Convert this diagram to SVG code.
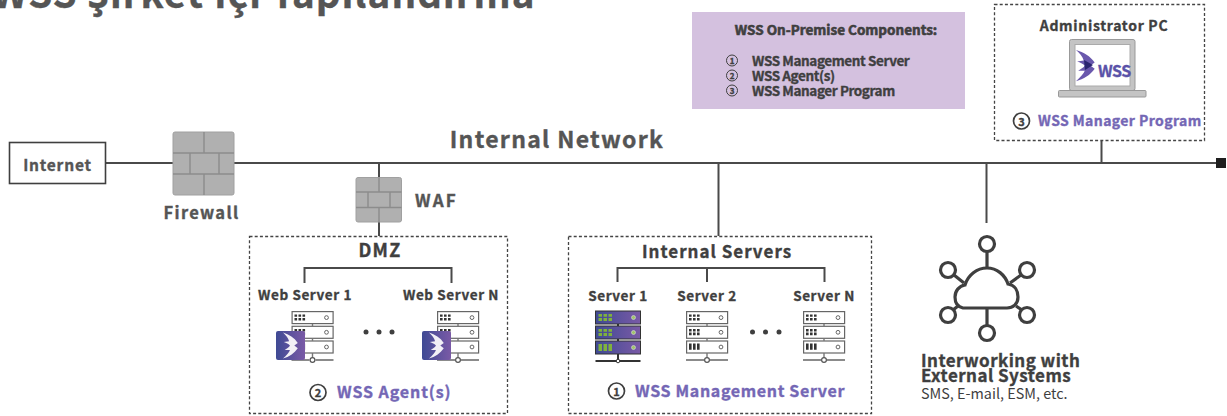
<svg xmlns="http://www.w3.org/2000/svg" width="1227" height="416" viewBox="0 0 1227 416">
<style>
text{font-family:"Noto Sans CJK KR","Noto Sans",sans-serif;font-weight:700;fill:#3f3f3f;stroke:#3f3f3f;stroke-width:.35}
.gray{fill:#555;stroke:#555}
.purple{fill:#7467b5;stroke:#7467b5}
.m{text-anchor:middle}
.wire{stroke:#4a4a4a;fill:none;stroke-width:2}
.box{fill:none;stroke:#444;stroke-width:1.3;stroke-dasharray:3 2.2}
.fw{fill:#b0b0b0;stroke:#a0a0a0;stroke-width:1}
.fl{stroke:#8c8c8c;stroke-width:1.4;fill:none}
.num{fill:#fff;stroke:#3f3f3f;stroke-width:1.7}
.srv{fill:#fff;stroke:#666;stroke-width:1.2}
.dot{fill:#3f3f3f}
</style>
<defs>
<linearGradient id="g" x1="0" x2="1" y1="0" y2="0"><stop offset="0" stop-color="#3f4a94"/><stop offset="1" stop-color="#7a5aa6"/></linearGradient>
<path id="swoosh" d="M0 0C7 2 13 6 17 12L13 15L17 18C13 24 7 28 0 30C4 26 7 23 8 20L2 20C5 18 7 17 8 15C6 13 4 12 1 11L7 10C6 6 3 3 0 0Z"/>
<g id="srvW">
<rect class="srv" x="0.6" y="0.6" width="41" height="12"/><rect class="srv" x="0.6" y="15.3" width="41" height="12"/><rect class="srv" x="0.6" y="30" width="41" height="12"/>
<path d="M21 13V15M21 27.5V30M21 42V47" stroke="#777" stroke-width="1.4"/>
<path d="M0 49H18M24 49H42" stroke="#666" stroke-width="1.3"/><circle cx="21" cy="49" r="2.4" fill="#fff" stroke="#555" stroke-width="1.2"/>
<path d="M3 3.500h2.600v2.200H3zM7 3.500h2.600v2.200H7zM11 3.500h2.600v2.200H11zM3 7h2.600v2.600H3zM7 7h2.600v2.600H7zM11 7h2.600v2.600H11zM3 18h2.600v2.400H3zM7 18h2.600v2.400H7zM11 18h2.600v2.400H11zM3 21.600h2.600v2.600H3zM7 21.600h2.600v2.600H7zM11 21.600h2.600v2.600H11zM3 32.600h2.600v6.200H3zM7 32.600h2.600v6.200H7zM11 32.600h2.600v6.200H11z" fill="#333"/>
<circle cx="35" cy="6.600" r="1.900" fill="#fff" stroke="#666"/><circle cx="35" cy="21.300" r="1.900" fill="#fff" stroke="#666"/><circle cx="35" cy="36" r="1.900" fill="#fff" stroke="#666"/>
</g>
<g id="agent"><rect width="29" height="29" rx="2" fill="url(#g)"/><use href="#swoosh" transform="translate(7 1.500) scale(.87)" fill="#f2f0f6"/></g>
</defs>

<text x="-8" y="8" font-size="38.500" class="gray" letter-spacing="1.100">WSS Şirket İçi Yapılandırma</text>

<g id="connectors">
<path class="wire" d="M105 163H1222"/>
<path class="wire" d="M379 163V236M718.500 163V236M986.500 163V223M1101.500 141V163"/>
<path class="wire" d="M304.500 283V268H451.500V283M617.500 282V268H824.500V282M707 268V282"/>
<rect x="1216" y="158" width="10" height="10" fill="#1e1e1e"/>
</g>

<g id="internet"><rect x="9.500" y="142.500" width="96" height="41" fill="#fff" stroke="#3f3f3f" stroke-width="1.600"/><text x="57.500" y="171" class="m gray" font-size="15.500" letter-spacing=".8">Internet</text></g>

<g id="firewall"><g transform="translate(173 132)"><rect class="fw" width="61" height="63" rx="2"/><path class="fl" d="M31 0V21M0 21H61M17 21V42M46 21V42M0 42H61M31 42V63"/></g>
<text x="201.500" y="219" class="m gray" font-size="16.500" letter-spacing="1.300">Firewall</text></g>

<g id="waf"><g transform="translate(356 177.500)"><rect class="fw" width="45.500" height="44.500" rx="2"/><path class="fl" d="M23 0V14M0 14.500H45.500M12 14.500V30M34 14.500V30M0 30H45.500M23 30V44.500"/></g>
<text x="415" y="207" class="gray" font-size="17" letter-spacing="2.200">WAF</text></g>

<g id="internal-network"><text x="557" y="147.500" class="m gray" font-size="23" letter-spacing="1.300">Internal Network</text></g>

<g id="legend"><rect x="692" y="12" width="273" height="97" fill="#d4c1df"/>
<text x="836" y="35" class="m" font-size="13.500" style="stroke-width:.6">WSS On-Premise Components:</text>
<g font-size="13.500" letter-spacing="-.4"><text x="752" y="66">WSS Management Server</text><text x="752" y="81">WSS Agent(s)</text><text x="752" y="96">WSS Manager Program</text></g>
<g fill="none" stroke="#3f3f3f" stroke-width="1"><circle cx="732" cy="60.500" r="5.500"/><circle cx="732" cy="75.500" r="5.500"/><circle cx="732" cy="90.500" r="5.500"/></g>
<g font-size="8" class="m" style="font-weight:500;stroke-width:0"><text x="732" y="63.500">1</text><text x="732" y="78.500">2</text><text x="732" y="93.500">3</text></g></g>

<g id="admin-pc"><rect class="box" x="994.500" y="4.500" width="210" height="136"/>
<text x="1104" y="30.500" class="m" font-size="14" letter-spacing=".7">Administrator PC</text>
<rect x="1069.500" y="39.500" width="65.500" height="51" rx="2" fill="#c4c4c4" stroke="#999"/>
<rect x="1075" y="44.500" width="55" height="41.500" fill="#fff" stroke="#aaa"/>
<rect x="1058.500" y="90.500" width="87.500" height="6.500" rx="1" fill="#c4c4c4" stroke="#999"/>
<use href="#swoosh" transform="translate(1076 50) scale(1.100 1.040)" fill="#6a58ad"/>
<path d="M1084 60l9 5-8 5z" fill="#2b2470"/>
<text x="1098" y="77" font-size="16" letter-spacing="-.5" style="fill:#5a52a8;stroke:#5a52a8">WSS</text>
<circle class="num" cx="1021.500" cy="121" r="8"/><text x="1021.500" y="125.500" class="m" font-size="11">3</text>
<text x="1038" y="126" class="purple" font-size="14" letter-spacing=".4">WSS Manager Program</text></g>

<g id="dmz"><rect class="box" x="249.500" y="236.500" width="258" height="177"/>
<text x="380" y="257" class="m" font-size="18" letter-spacing="1.300">DMZ</text>
<text x="305" y="300" class="m" font-size="13.500" letter-spacing=".6">Web Server 1</text>
<text x="451" y="300" class="m" font-size="13.500" letter-spacing=".6">Web Server N</text>
<use href="#srvW" x="291.500" y="311"/><use href="#srvW" x="437" y="311"/>
<use href="#agent" x="276" y="331"/><use href="#agent" x="422" y="331"/>
<circle class="dot" cx="366" cy="332" r="2.500"/><circle class="dot" cx="379" cy="332" r="2.500"/><circle class="dot" cx="392" cy="332" r="2.500"/>
<circle class="num" cx="318" cy="392.500" r="8"/><text x="318" y="397" class="m" font-size="11">2</text>
<text x="337" y="398" class="purple" font-size="16" letter-spacing=".9">WSS Agent(s)</text></g>

<g id="internal-servers"><rect class="box" x="568.500" y="236.500" width="303" height="177"/>
<text x="717" y="258" class="m" font-size="17" letter-spacing="1">Internal Servers</text>
<text x="618" y="301" class="m" font-size="13.500" letter-spacing=".6">Server 1</text>
<text x="707" y="301" class="m" font-size="13.500" letter-spacing=".6">Server 2</text>
<text x="824" y="301" class="m" font-size="13.500" letter-spacing=".6">Server N</text>
<g id="mgmt" transform="translate(595.500 311)"><rect y="0" width="45" height="13" fill="url(#g)" stroke="#333"/><rect y="15" width="45" height="13" fill="url(#g)" stroke="#333"/><rect y="30" width="45" height="13" fill="url(#g)" stroke="#333"/>
<path d="M22.500 13V15M22.500 28V30M22.500 43V49" stroke="#333" stroke-width="2"/><path d="M0 50H45" stroke="#333" stroke-width="2"/><circle cx="22.500" cy="50" r="1.800" fill="#fff" stroke="#333"/>
<path d="M3 3h3.500v2.700H3zM8 3h3.500v2.700H8zM13 3h3.500v2.700H13zM3 7h3.500v3H3zM8 7h3.500v3H8zM13 7h3.500v3H13zM3 18h3.500v2.700H3zM8 18h3.500v2.700H8zM13 18h3.500v2.700H13zM3 22h3.500v3H3zM8 22h3.500v3H8zM13 22h3.500v3H13zM3 33h3.500v7H3zM8 33h3.500v7H8zM13 33h3.500v7H13z" fill="#7fb23c"/>
<circle cx="38" cy="6.500" r="2" fill="#9fc46a" stroke="#ddd" stroke-width=".6"/><circle cx="38" cy="21.500" r="2" fill="#9fc46a" stroke="#ddd" stroke-width=".6"/><circle cx="38" cy="36.500" r="2" fill="#9fc46a" stroke="#ddd" stroke-width=".6"/></g>
<use href="#srvW" x="686" y="311"/><use href="#srvW" x="803" y="311"/>
<circle class="dot" cx="752.500" cy="332" r="2.500"/><circle class="dot" cx="765.500" cy="332" r="2.500"/><circle class="dot" cx="779" cy="332" r="2.500"/>
<circle class="num" cx="616.500" cy="391" r="8"/><text x="616.500" y="395.500" class="m" font-size="11">1</text>
<text x="635" y="397" class="purple" font-size="16" letter-spacing=".65">WSS Management Server</text></g>

<g id="external"><g fill="none" stroke="#3f3f3f" stroke-width="3.200">
<path d="M963 308C958 307 955 303 955 297C955 291 959 286 965 285C968 275 977 268 987 268C997 268 1005 275 1008 284C1015 285 1018 291 1018 297C1018 304 1013 308 1007 308Z"/>
<path d="M987 268V252M987 308V326M964 283L954 275M1010 283L1021 275M958 306L953 310M1016 306L1022 310"/>
<circle cx="987" cy="244" r="7.500"/><circle cx="987" cy="333" r="7.500"/><circle cx="948" cy="270" r="7.500"/><circle cx="1027" cy="270" r="7.500"/><circle cx="948" cy="315" r="7.500"/><circle cx="1027" cy="315" r="7.500"/></g>
<text x="921" y="367" font-size="17" letter-spacing=".45">Interworking with</text><text x="921" y="381.500" font-size="17" letter-spacing=".45">External Systems</text>
<text x="921" y="399" font-size="14.400" style="font-weight:400;stroke-width:0">SMS, E-mail, ESM, etc.</text></g>
</svg>
